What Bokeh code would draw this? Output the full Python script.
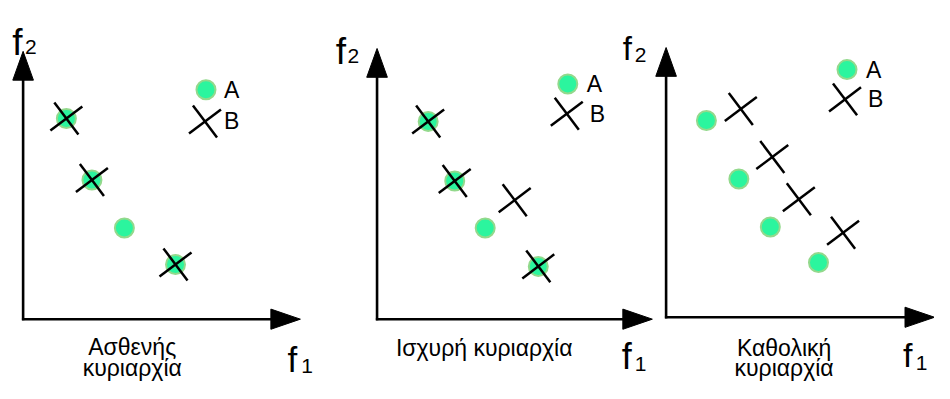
import math
from bokeh.plotting import figure
from bokeh.models import Range1d, Arrow, Label, ColumnDataSource
from bokeh.transform import dodge
from bokeh.embed import file_html
from bokeh.resources import INLINE

# ---------------- data (panel-local f1 / f2 values) ----------------
A_weak_f1 = [4.4, 7.0, 10.3, 15.5]
A_weak_f2 = [20.9, 14.5, 9.5, 5.7]
B_weak_f1 = [4.4, 7.0, 15.5]
B_weak_f2 = [20.9, 14.5, 5.7]

A_strong_f1 = [5.2, 7.9, 11.0, 16.4]
A_strong_f2 = [20.6, 14.4, 9.5, 5.5]
B_strong_f1 = [5.2, 7.9, 14.0, 16.4]
B_strong_f2 = [20.6, 14.4, 12.4, 5.5]

A_global_f1 = [4.1, 7.4, 10.6, 15.5]
A_global_f2 = [20.5, 14.4, 9.4, 5.7]
B_global_f1 = [7.6, 10.8, 13.5, 18.0]
B_global_f2 = [21.7, 16.7, 12.3, 8.8]

series_names = ["A", "B"]
panel_captions = [["Ασθενής", "κυριαρχία"], ["Ισχυρή κυριαρχία"], ["Καθολική", "κυριαρχία"]]
axis_letter = "f"
axis_subscripts = ["1", "2"]

panels_A = [(A_weak_f1, A_weak_f2), (A_strong_f1, A_strong_f2), (A_global_f1, A_global_f2)]
panels_B = [(B_weak_f1, B_weak_f2), (B_strong_f1, B_strong_f2), (B_global_f1, B_global_f2)]

# ---------------- layout / style ----------------
W, H = 934, 383
REF_W, REF_H = 950, 399
FONT = "Liberation Sans"

def X(rx):
    return rx / 10.0

def Y(ry):
    return (REF_H - ry) / 10.0

# panel origins (ref px) and axis tips
origins = [(23, 332), (383, 332), (677, 330)]
x_tips = [305, 663, 950]
y_tips = [53, 50, 49]
HEAD_LEN = 3.0     # arrow head length (ref px / 10)
HEAD_HALF = 1.05   # arrow head half width
# legend marker positions (ref px): A circle, B cross
legend_A = [(209, 93), (577, 87), (861, 72)]
legend_B = [(208, 126), (576, 118), (859, 103)]
legend_text_dx = [(18, 19), (19, 23), (19, 23)]
LEG_FS = "23px"
# axis labels: (letter left, baseline, size, sub left, sub baseline, sub size)
f2_labels = [(12, 44, 37, 25, 48, 21), (341, 53, 37, 353, 58, 21), (633, 50, 33, 645, 57, 21)]
f1_labels = [(292, 374, 35, 306, 381, 21), (632, 371, 36, 645, 379, 21), (918, 369, 34, 931, 378, 21)]
caption_pos = [(134, [361, 383]), (492, [362]), (797, [362, 383])]
CAP_FS = "23px"

CIRCLE_FILL = "#2bf59e"
CIRCLE_LINE = "#93d98c"
CIRCLE_SIZE = 19
CROSS_SIZE = 40
CROSS_W = 2.5
ANG1 = math.radians(-53)
ANG2 = math.radians(37)

p = figure(width=W, height=H, x_range=Range1d(0, REF_W / 10.0), y_range=Range1d(0, REF_H / 10.0),
           output_backend="svg", toolbar_location=None, x_axis_location=None, y_axis_location=None,
           min_border=0)
p.grid.visible = False
p.outline_line_color = None
p.background_fill_color = "white"


def draw_cross(src, ox, oy, xf="f1", yf="f2"):
    for ang in (ANG1, ANG2):
        p.scatter(x=dodge(xf, ox, range=p.x_range), y=dodge(yf, oy, range=p.y_range), source=src,
                  marker="dash", size=CROSS_SIZE, angle=ang, line_color="black", line_width=CROSS_W)


head_xs, head_ys = [], []
for i in range(3):
    ox, oy = X(origins[i][0]), Y(origins[i][1])
    xt, yt = X(x_tips[i]), Y(y_tips[i])
    # axis shafts
    p.add_layout(Arrow(x_start=ox - 0.12, y_start=oy, x_end=xt - HEAD_LEN * 0.8, y_end=oy,
                       line_width=2.6, line_color="black", end=None))
    p.add_layout(Arrow(x_start=ox, y_start=oy - 0.12, x_end=ox, y_end=yt - HEAD_LEN * 0.8,
                       line_width=2.6, line_color="black", end=None))
    # arrow heads
    head_xs.append([xt, xt - HEAD_LEN, xt - HEAD_LEN])
    head_ys.append([oy, oy + HEAD_HALF, oy - HEAD_HALF])
    head_xs.append([ox, ox - HEAD_HALF, ox + HEAD_HALF])
    head_ys.append([yt, yt - HEAD_LEN, yt - HEAD_LEN])

    a_src = ColumnDataSource(dict(f1=panels_A[i][0], f2=panels_A[i][1]))
    b_src = ColumnDataSource(dict(f1=panels_B[i][0], f2=panels_B[i][1]))
    p.scatter(x=dodge("f1", ox, range=p.x_range), y=dodge("f2", oy, range=p.y_range), source=a_src,
              marker="circle", size=CIRCLE_SIZE, fill_color=CIRCLE_FILL, line_color=CIRCLE_LINE,
              line_width=2)
    draw_cross(b_src, ox, oy)

    # legend
    lax, lay = legend_A[i]
    lbx, lby = legend_B[i]
    la_src = ColumnDataSource(dict(x=[X(lax)], y=[Y(lay)]))
    lb_src = ColumnDataSource(dict(x=[X(lbx)], y=[Y(lby)]))
    p.scatter(x="x", y="y", source=la_src, marker="circle", size=CIRCLE_SIZE,
              fill_color=CIRCLE_FILL, line_color=CIRCLE_LINE, line_width=2)
    draw_cross(lb_src, 0, 0, "x", "y")
    p.add_layout(Label(x=X(lax), y=Y(lay), x_offset=legend_text_dx[i][0], text=series_names[0],
                       text_font=FONT, text_font_size=LEG_FS, text_baseline="middle",
                       text_color="black"))
    p.add_layout(Label(x=X(lbx), y=Y(lby), x_offset=legend_text_dx[i][1], text=series_names[1],
                       text_font=FONT, text_font_size=LEG_FS, text_baseline="middle",
                       text_color="black"))

    # axis labels f2 / f1
    for (lx, lb, ls, sx, sb, ss), sub in ((f2_labels[i], axis_subscripts[1]), (f1_labels[i], axis_subscripts[0])):
        p.add_layout(Label(x=X(lx), y=Y(lb), text=axis_letter, text_font=FONT,
                           text_font_size=f"{ls}px", text_baseline="alphabetic", text_color="black"))
        p.add_layout(Label(x=X(sx), y=Y(sb), text=sub, text_font=FONT,
                           text_font_size=f"{ss}px", text_baseline="alphabetic", text_color="black"))

    # captions
    cx, baselines = caption_pos[i]
    for line, bl in zip(panel_captions[i], baselines):
        p.add_layout(Label(x=X(cx), y=Y(bl), text=line, text_font=FONT,
                           text_font_size=CAP_FS, text_align="center",
                           text_baseline="alphabetic", text_color="black"))

p.patches(xs=head_xs, ys=head_ys, fill_color="black", line_color="black", line_width=1)

open("out.html", "w").write(file_html(p, INLINE))
